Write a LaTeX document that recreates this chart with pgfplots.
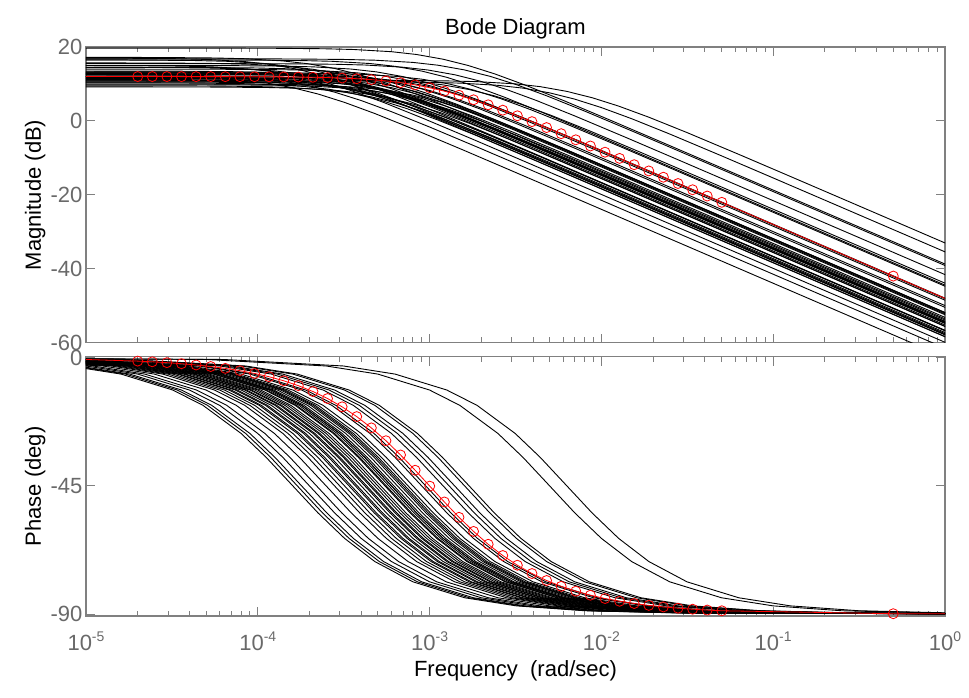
\documentclass[border=0pt]{standalone}
\usepackage{fontspec}
\setmainfont{Liberation Sans}
\usepackage{pgfplots}
\usepackage{pgfplotstable}
\pgfplotsset{compat=1.18}
\definecolor{axgray}{RGB}{128,128,128}
\definecolor{labgray}{RGB}{105,105,105}
\newcommand\tp[1]{10\raisebox{9pt}{\fontsize{14}{14}\selectfont #1}}
\pgfplotsset{blk/.style={black, line width=0.9pt, no marks}}
% ---------- black curves: columns x (rad/s), m (dB), p (deg) ----------
\pgfplotstableread{
x m p
1e-6 11.00 0
6.3e-5 11.00 -0.57
31.5e-5 10.99 -2.86
6.3e-4 10.96 -5.71
12.6e-4 10.83 -11.31
18.9e-4 10.63 -16.70
31.5e-4 10.03 -26.57
44.1e-4 9.27 -34.99
6.3e-3 7.99 -45.00
8.82e-3 6.29 -54.46
12.6e-3 4.01 -63.43
18.9e-3 1.00 -71.57
31.5e-3 -3.15 -78.69
6.3e-2 -9.04 -84.29
12.6e-2 -15.03 -87.14
31.5e-2 -22.98 -88.85
12.6e-1 -35.02 -89.71
10 -53.01 -90
}\crvA
\pgfplotstableread{
x m p
1e-6 10.60 0
5e-5 10.60 -0.57
25e-5 10.59 -2.86
5e-4 10.56 -5.71
10e-4 10.43 -11.31
15e-4 10.23 -16.70
25e-4 9.63 -26.57
35e-4 8.87 -34.99
5e-3 7.59 -45.00
7e-3 5.89 -54.46
10e-3 3.61 -63.43
15e-3 0.60 -71.57
25e-3 -3.55 -78.69
5e-2 -9.44 -84.29
10e-2 -15.43 -87.14
25e-2 -23.38 -88.85
10e-1 -35.42 -89.71
10 -55.42 -90
}\crvB
\pgfplotstableread{
x m p
1e-6 19.70 0
1.2e-5 19.70 -0.57
6e-5 19.69 -2.86
1.2e-4 19.66 -5.71
2.4e-4 19.53 -11.31
3.6e-4 19.33 -16.70
6e-4 18.73 -26.57
8.4e-4 17.97 -34.99
1.2e-3 16.69 -45.00
1.68e-3 14.99 -54.46
2.4e-3 12.71 -63.43
3.6e-3 9.70 -71.57
6e-3 5.55 -78.69
1.2e-2 -0.34 -84.29
2.4e-2 -6.33 -87.14
6e-2 -14.28 -88.85
2.4e-1 -26.32 -89.71
10 -58.72 -90
}\crvC
\pgfplotstableread{
x m p
1e-6 16.80 0
1.6e-5 16.80 -0.57
8e-5 16.79 -2.86
1.6e-4 16.76 -5.71
3.2e-4 16.63 -11.31
4.8e-4 16.43 -16.70
8e-4 15.83 -26.57
11.2e-4 15.07 -34.99
1.6e-3 13.79 -45.00
2.24e-3 12.09 -54.46
3.2e-3 9.81 -63.43
4.8e-3 6.80 -71.57
8e-3 2.65 -78.69
1.6e-2 -3.24 -84.29
3.2e-2 -9.23 -87.14
8e-2 -17.18 -88.85
3.2e-1 -29.22 -89.71
10 -59.12 -90
}\crvD
\pgfplotstableread{
x m p
1e-6 15.50 0
1.4e-5 15.50 -0.57
7e-5 15.49 -2.86
1.4e-4 15.46 -5.71
2.8e-4 15.33 -11.31
4.2e-4 15.13 -16.70
7e-4 14.53 -26.57
9.8e-4 13.77 -34.99
1.4e-3 12.49 -45.00
1.96e-3 10.79 -54.46
2.8e-3 8.51 -63.43
4.2e-3 5.50 -71.57
7e-3 1.35 -78.69
1.4e-2 -4.54 -84.29
2.8e-2 -10.53 -87.14
7e-2 -18.48 -88.85
2.8e-1 -30.52 -89.71
10 -61.58 -90
}\crvE
\pgfplotstableread{
x m p
1e-6 11.50 0
1.7e-5 11.50 -0.57
8.5e-5 11.49 -2.86
1.7e-4 11.46 -5.71
3.4e-4 11.33 -11.31
5.1e-4 11.13 -16.70
8.5e-4 10.53 -26.57
11.9e-4 9.77 -34.99
1.7e-3 8.49 -45.00
2.38e-3 6.79 -54.46
3.4e-3 4.51 -63.43
5.1e-3 1.50 -71.57
8.5e-3 -2.65 -78.69
1.7e-2 -8.54 -84.29
3.4e-2 -14.53 -87.14
8.5e-2 -22.48 -88.85
3.4e-1 -34.52 -89.71
10 -63.89 -90
}\crvF
\pgfplotstableread{
x m p
1e-6 13.00 0
1.3e-5 13.00 -0.57
6.5e-5 12.99 -2.86
1.3e-4 12.96 -5.71
2.6e-4 12.83 -11.31
3.9e-4 12.63 -16.70
6.5e-4 12.03 -26.57
9.1e-4 11.27 -34.99
1.3e-3 9.99 -45.00
1.82e-3 8.29 -54.46
2.6e-3 6.01 -63.43
3.9e-3 3.00 -71.57
6.5e-3 -1.15 -78.69
1.3e-2 -7.04 -84.29
2.6e-2 -13.03 -87.14
6.5e-2 -20.98 -88.85
2.6e-1 -33.02 -89.71
10 -64.72 -90
}\crvG
\pgfplotstableread{
x m p
1e-6 16.50 0
9e-6 16.50 -0.57
45e-6 16.49 -2.86
9e-5 16.46 -5.71
18e-5 16.33 -11.31
27e-5 16.13 -16.70
45e-5 15.53 -26.57
63e-5 14.77 -34.99
9e-4 13.49 -45.00
12.6e-4 11.79 -54.46
18e-4 9.51 -63.43
27e-4 6.50 -71.57
45e-4 2.35 -78.69
9e-3 -3.54 -84.29
18e-3 -9.53 -87.14
45e-3 -17.48 -88.85
18e-2 -29.52 -89.71
10 -64.42 -90
}\crvH
\pgfplotstableread{
x m p
1e-6 12.50 0
9.5e-6 12.50 -0.57
47.5e-6 12.49 -2.86
9.5e-5 12.46 -5.71
19e-5 12.33 -11.31
28.5e-5 12.13 -16.70
47.5e-5 11.53 -26.57
66.5e-5 10.77 -34.99
9.5e-4 9.49 -45.00
13.3e-4 7.79 -54.46
19e-4 5.51 -63.43
28.5e-4 2.50 -71.57
47.5e-4 -1.65 -78.69
9.5e-3 -7.54 -84.29
19e-3 -13.53 -87.14
47.5e-3 -21.48 -88.85
19e-2 -33.52 -89.71
10 -67.95 -90
}\crvI
\pgfplotstableread{
x m p
1e-6 10.00 0
8e-6 10.00 -0.57
40e-6 9.99 -2.86
8e-5 9.96 -5.71
16e-5 9.83 -11.31
24e-5 9.63 -16.70
40e-5 9.03 -26.57
56e-5 8.27 -34.99
8e-4 6.99 -45.00
11.2e-4 5.29 -54.46
16e-4 3.01 -63.43
24e-4 0.00 -71.57
40e-4 -4.15 -78.69
8e-3 -10.04 -84.29
16e-3 -16.03 -87.14
40e-3 -23.98 -88.85
16e-2 -36.02 -89.71
10 -71.94 -90
}\crvJ
\pgfplotstableread{
x m p
1e-6 14.00 0
7.5e-6 14.00 -0.57
37.5e-6 13.99 -2.86
7.5e-5 13.96 -5.71
15e-5 13.83 -11.31
22.5e-5 13.63 -16.70
37.5e-5 13.03 -26.57
52.5e-5 12.27 -34.99
7.5e-4 10.99 -45.00
10.5e-4 9.29 -54.46
15e-4 7.01 -63.43
22.5e-4 4.00 -71.57
37.5e-4 -0.15 -78.69
7.5e-3 -6.04 -84.29
15e-3 -12.03 -87.14
37.5e-3 -19.98 -88.85
15e-2 -32.02 -89.71
10 -68.50 -90
}\crvK
\pgfplotstableread{
x m p
1e-6 15.00 0
7e-6 15.00 -0.57
35e-6 14.99 -2.86
7e-5 14.96 -5.71
14e-5 14.83 -11.31
21e-5 14.63 -16.70
35e-5 14.03 -26.57
49e-5 13.27 -34.99
7e-4 11.99 -45.00
9.8e-4 10.29 -54.46
14e-4 8.01 -63.43
21e-4 5.00 -71.57
35e-4 0.85 -78.69
7e-3 -5.04 -84.29
14e-3 -11.03 -87.14
35e-3 -18.98 -88.85
14e-2 -31.02 -89.71
10 -68.10 -90
}\crvL
\pgfplotstableread{
x m p
1e-6 13.30 0
6.5e-6 13.30 -0.57
32.5e-6 13.29 -2.86
6.5e-5 13.26 -5.71
13e-5 13.13 -11.31
19.5e-5 12.93 -16.70
32.5e-5 12.33 -26.57
45.5e-5 11.57 -34.99
6.5e-4 10.29 -45.00
9.1e-4 8.59 -54.46
13e-4 6.31 -63.43
19.5e-4 3.30 -71.57
32.5e-4 -0.85 -78.69
6.5e-3 -6.74 -84.29
13e-3 -12.73 -87.14
32.5e-3 -20.68 -88.85
13e-2 -32.72 -89.71
10 -70.44 -90
}\crvM
\pgfplotstableread{
x m p
1e-6 12.00 0
6e-6 12.00 -0.57
30e-6 11.99 -2.86
6e-5 11.96 -5.71
12e-5 11.83 -11.31
18e-5 11.63 -16.70
30e-5 11.03 -26.57
42e-5 10.27 -34.99
6e-4 8.99 -45.00
8.4e-4 7.29 -54.46
12e-4 5.01 -63.43
18e-4 2.00 -71.57
30e-4 -2.15 -78.69
6e-3 -8.04 -84.29
12e-3 -14.03 -87.14
30e-3 -21.98 -88.85
12e-2 -34.02 -89.71
10 -72.44 -90
}\crvN
\pgfplotstableread{
x m p
1e-6 12.60 0
6e-6 12.60 -0.57
30e-6 12.59 -2.86
6e-5 12.56 -5.71
12e-5 12.43 -11.31
18e-5 12.23 -16.70
30e-5 11.63 -26.57
42e-5 10.87 -34.99
6e-4 9.59 -45.00
8.4e-4 7.89 -54.46
12e-4 5.61 -63.43
18e-4 2.60 -71.57
30e-4 -1.55 -78.69
6e-3 -7.44 -84.29
12e-3 -13.43 -87.14
30e-3 -21.38 -88.85
12e-2 -33.42 -89.71
10 -71.84 -90
}\crvO
\pgfplotstableread{
x m p
1e-6 11.00 0
6.2e-6 11.00 -0.57
31e-6 10.99 -2.86
6.2e-5 10.96 -5.71
12.4e-5 10.83 -11.31
18.6e-5 10.63 -16.70
31e-5 10.03 -26.57
43.4e-5 9.27 -34.99
6.2e-4 7.99 -45.00
8.68e-4 6.29 -54.46
12.4e-4 4.01 -63.43
18.6e-4 1.00 -71.57
31e-4 -3.15 -78.69
6.2e-3 -9.04 -84.29
12.4e-3 -15.03 -87.14
31e-3 -22.98 -88.85
12.4e-2 -35.02 -89.71
10 -73.15 -90
}\crvP
\pgfplotstableread{
x m p
1e-6 13.00 0
5.5e-6 13.00 -0.57
27.5e-6 12.99 -2.86
5.5e-5 12.96 -5.71
11e-5 12.83 -11.31
16.5e-5 12.63 -16.70
27.5e-5 12.03 -26.57
38.5e-5 11.27 -34.99
5.5e-4 9.99 -45.00
7.7e-4 8.29 -54.46
11e-4 6.01 -63.43
16.5e-4 3.00 -71.57
27.5e-4 -1.15 -78.69
5.5e-3 -7.04 -84.29
11e-3 -13.03 -87.14
27.5e-3 -20.98 -88.85
11e-2 -33.02 -89.71
10 -72.19 -90
}\crvQ
\pgfplotstableread{
x m p
1e-6 10.50 0
5.6e-6 10.50 -0.57
28e-6 10.49 -2.86
5.6e-5 10.46 -5.71
11.2e-5 10.33 -11.31
16.8e-5 10.13 -16.70
28e-5 9.53 -26.57
39.2e-5 8.77 -34.99
5.6e-4 7.49 -45.00
7.84e-4 5.79 -54.46
11.2e-4 3.51 -63.43
16.8e-4 0.50 -71.57
28e-4 -3.65 -78.69
5.6e-3 -9.54 -84.29
11.2e-3 -15.53 -87.14
28e-3 -23.48 -88.85
11.2e-2 -35.52 -89.71
10 -74.54 -90
}\crvR
\pgfplotstableread{
x m p
1e-6 11.80 0
5e-6 11.80 -0.57
25e-6 11.79 -2.86
5e-5 11.76 -5.71
10e-5 11.63 -11.31
15e-5 11.43 -16.70
25e-5 10.83 -26.57
35e-5 10.07 -34.99
5e-4 8.79 -45.00
7e-4 7.09 -54.46
10e-4 4.81 -63.43
15e-4 1.80 -71.57
25e-4 -2.35 -78.69
5e-3 -8.24 -84.29
10e-3 -14.23 -87.14
25e-3 -22.18 -88.85
10e-2 -34.22 -89.71
10 -74.22 -90
}\crvS
\pgfplotstableread{
x m p
1e-6 14.50 0
4.8e-6 14.50 -0.57
24e-6 14.49 -2.86
4.8e-5 14.46 -5.71
9.6e-5 14.33 -11.31
14.4e-5 14.13 -16.70
24e-5 13.53 -26.57
33.6e-5 12.77 -34.99
4.8e-4 11.49 -45.00
6.72e-4 9.79 -54.46
9.6e-4 7.51 -63.43
14.4e-4 4.50 -71.57
24e-4 0.35 -78.69
4.8e-3 -5.54 -84.29
9.6e-3 -11.53 -87.14
24e-3 -19.48 -88.85
9.6e-2 -31.52 -89.71
10 -71.88 -90
}\crvT
\pgfplotstableread{
x m p
1e-6 9.50 0
4.6e-6 9.50 -0.57
23e-6 9.49 -2.86
4.6e-5 9.46 -5.71
9.2e-5 9.33 -11.31
13.8e-5 9.13 -16.70
23e-5 8.53 -26.57
32.2e-5 7.77 -34.99
4.6e-4 6.49 -45.00
6.44e-4 4.79 -54.46
9.2e-4 2.51 -63.43
13.8e-4 -0.50 -71.57
23e-4 -4.65 -78.69
4.6e-3 -10.54 -84.29
9.2e-3 -16.53 -87.14
23e-3 -24.48 -88.85
9.2e-2 -36.52 -89.71
10 -77.24 -90
}\crvU
\pgfplotstableread{
x m p
1e-6 12.80 0
4.3e-6 12.80 -0.57
21.5e-6 12.79 -2.86
4.3e-5 12.76 -5.71
8.6e-5 12.63 -11.31
12.9e-5 12.43 -16.70
21.5e-5 11.83 -26.57
30.1e-5 11.07 -34.99
4.3e-4 9.79 -45.00
6.02e-4 8.09 -54.46
8.6e-4 5.81 -63.43
12.9e-4 2.80 -71.57
21.5e-4 -1.35 -78.69
4.3e-3 -7.24 -84.29
8.6e-3 -13.23 -87.14
21.5e-3 -21.18 -88.85
8.6e-2 -33.22 -89.71
10 -74.53 -90
}\crvV
\pgfplotstableread{
x m p
1e-6 11.20 0
4e-6 11.20 -0.57
20e-6 11.19 -2.86
4e-5 11.16 -5.71
8e-5 11.03 -11.31
12e-5 10.83 -16.70
20e-5 10.23 -26.57
28e-5 9.47 -34.99
4e-4 8.19 -45.00
5.6e-4 6.49 -54.46
8e-4 4.21 -63.43
12e-4 1.20 -71.57
20e-4 -2.95 -78.69
4e-3 -8.84 -84.29
8e-3 -14.83 -87.14
20e-3 -22.78 -88.85
8e-2 -34.82 -89.71
10 -76.76 -90
}\crvW
\pgfplotstableread{
x m p
1e-6 10.30 0
3.7e-6 10.30 -0.57
18.5e-6 10.29 -2.86
3.7e-5 10.26 -5.71
7.4e-5 10.13 -11.31
11.1e-5 9.93 -16.70
18.5e-5 9.33 -26.57
25.9e-5 8.57 -34.99
3.7e-4 7.29 -45.00
5.18e-4 5.59 -54.46
7.4e-4 3.31 -63.43
11.1e-4 0.30 -71.57
18.5e-4 -3.85 -78.69
3.7e-3 -9.74 -84.29
7.4e-3 -15.73 -87.14
18.5e-3 -23.68 -88.85
7.4e-2 -35.72 -89.71
10 -78.34 -90
}\crvX
\pgfplotstableread{
x m p
1e-6 13.50 0
3.5e-6 13.50 -0.57
17.5e-6 13.49 -2.86
3.5e-5 13.46 -5.71
7e-5 13.33 -11.31
10.5e-5 13.13 -16.70
17.5e-5 12.53 -26.57
24.5e-5 11.77 -34.99
3.5e-4 10.49 -45.00
4.9e-4 8.79 -54.46
7e-4 6.51 -63.43
10.5e-4 3.50 -71.57
17.5e-4 -0.65 -78.69
3.5e-3 -6.54 -84.29
7e-3 -12.53 -87.14
17.5e-3 -20.48 -88.85
7e-2 -32.52 -89.71
10 -75.62 -90
}\crvY
\pgfplotstableread{
x m p
1e-6 12.00 0
3.2e-6 12.00 -0.57
16e-6 11.99 -2.86
3.2e-5 11.96 -5.71
6.4e-5 11.83 -11.31
9.6e-5 11.63 -16.70
16e-5 11.03 -26.57
22.4e-5 10.27 -34.99
3.2e-4 8.99 -45.00
4.48e-4 7.29 -54.46
6.4e-4 5.01 -63.43
9.6e-4 2.00 -71.57
16e-4 -2.15 -78.69
3.2e-3 -8.04 -84.29
6.4e-3 -14.03 -87.14
16e-3 -21.98 -88.85
6.4e-2 -34.02 -89.71
10 -77.90 -90
}\crvZ
\pgfplotstableread{
x m p
1e-6 15.70 0
3e-6 15.70 -0.57
15e-6 15.69 -2.86
3e-5 15.66 -5.71
6e-5 15.53 -11.31
9e-5 15.33 -16.70
15e-5 14.73 -26.57
21e-5 13.97 -34.99
3e-4 12.69 -45.00
4.2e-4 10.99 -54.46
6e-4 8.71 -63.43
9e-4 5.70 -71.57
15e-4 1.55 -78.69
3e-3 -4.34 -84.29
6e-3 -10.33 -87.14
15e-3 -18.28 -88.85
6e-2 -30.32 -89.71
10 -74.76 -90
}\crvAA
\pgfplotstableread{
x m p
1e-6 17.20 0
2.8e-6 17.20 -0.57
14e-6 17.19 -2.86
2.8e-5 17.16 -5.71
5.6e-5 17.03 -11.31
8.4e-5 16.83 -16.70
14e-5 16.23 -26.57
19.6e-5 15.47 -34.99
2.8e-4 14.19 -45.00
3.92e-4 12.49 -54.46
5.6e-4 10.21 -63.43
8.4e-4 7.20 -71.57
14e-4 3.05 -78.69
2.8e-3 -2.84 -84.29
5.6e-3 -8.83 -87.14
14e-3 -16.78 -88.85
5.6e-2 -28.82 -89.71
10 -73.86 -90
}\crvAB
\pgfplotstableread{
x m p
1e-6 14.50 0
2.5e-6 14.50 -0.57
12.5e-6 14.49 -2.86
2.5e-5 14.46 -5.71
5e-5 14.33 -11.31
7.5e-5 14.13 -16.70
12.5e-5 13.53 -26.57
17.5e-5 12.77 -34.99
2.5e-4 11.49 -45.00
3.5e-4 9.79 -54.46
5e-4 7.51 -63.43
7.5e-4 4.50 -71.57
12.5e-4 0.35 -78.69
2.5e-3 -5.54 -84.29
5e-3 -11.53 -87.14
12.5e-3 -19.48 -88.85
5e-2 -31.52 -89.71
10 -77.54 -90
}\crvAC
\pgfplotstableread{
x m p
1e-6 16.50 0
2.2e-6 16.50 -0.57
11e-6 16.49 -2.86
2.2e-5 16.46 -5.71
4.4e-5 16.33 -11.31
6.6e-5 16.13 -16.70
11e-5 15.53 -26.57
15.4e-5 14.77 -34.99
2.2e-4 13.49 -45.00
3.08e-4 11.79 -54.46
4.4e-4 9.51 -63.43
6.6e-4 6.50 -71.57
11e-4 2.35 -78.69
2.2e-3 -3.54 -84.29
4.4e-3 -9.53 -87.14
11e-3 -17.48 -88.85
4.4e-2 -29.52 -89.71
10 -76.65 -90
}\crvAD
\pgfplotstableread{
x m p
1e-6 12.50 0
2e-6 12.50 -0.57
10e-6 12.49 -2.86
2e-5 12.46 -5.71
4e-5 12.33 -11.31
6e-5 12.13 -16.70
10e-5 11.53 -26.57
14e-5 10.77 -34.99
2e-4 9.49 -45.00
2.8e-4 7.79 -54.46
4e-4 5.51 -63.43
6e-4 2.50 -71.57
10e-4 -1.65 -78.69
2e-3 -7.54 -84.29
4e-3 -13.53 -87.14
10e-3 -21.48 -88.85
4e-2 -33.52 -89.71
10 -81.48 -90
}\crvAE
\pgfplotstableread{
x m p
1e-6 15.00 0
1.8e-6 15.00 -0.57
9e-6 14.99 -2.86
1.8e-5 14.96 -5.71
3.6e-5 14.83 -11.31
5.4e-5 14.63 -16.70
9e-5 14.03 -26.57
12.6e-5 13.27 -34.99
1.8e-4 11.99 -45.00
2.52e-4 10.29 -54.46
3.6e-4 8.01 -63.43
5.4e-4 5.00 -71.57
9e-4 0.85 -78.69
1.8e-3 -5.04 -84.29
3.6e-3 -11.03 -87.14
9e-3 -18.98 -88.85
3.6e-2 -31.02 -89.71
10 -79.89 -90
}\crvAF
\pgfplotstableread{
x m p
1e-6 17.00 0
1.7e-6 17.00 -0.57
8.5e-6 16.99 -2.86
1.7e-5 16.96 -5.71
3.4e-5 16.83 -11.31
5.1e-5 16.63 -16.70
8.5e-5 16.03 -26.57
11.9e-5 15.27 -34.99
1.7e-4 13.99 -45.00
2.38e-4 12.29 -54.46
3.4e-4 10.01 -63.43
5.1e-4 7.00 -71.57
8.5e-4 2.85 -78.69
1.7e-3 -3.04 -84.29
3.4e-3 -9.03 -87.14
8.5e-3 -16.98 -88.85
3.4e-2 -29.02 -89.71
10 -78.39 -90
}\crvAG
\pgfplotstableread{
x m p
1e-6 12.00 0
1.6e-6 12.00 -0.57
8e-6 11.99 -2.86
1.6e-5 11.96 -5.71
3.2e-5 11.83 -11.31
4.8e-5 11.63 -16.70
8e-5 11.03 -26.57
11.2e-5 10.27 -34.99
1.6e-4 8.99 -45.00
2.24e-4 7.29 -54.46
3.2e-4 5.01 -63.43
4.8e-4 2.00 -71.57
8e-4 -2.15 -78.69
1.6e-3 -8.04 -84.29
3.2e-3 -14.03 -87.14
8e-3 -21.98 -88.85
3.2e-2 -34.02 -89.71
10 -83.92 -90
}\crvAH
\pgfplotstableread{
x m p
1e-6 9.80 0
6.8e-6 9.80 -0.57
34e-6 9.79 -2.86
6.8e-5 9.76 -5.71
13.6e-5 9.63 -11.31
20.4e-5 9.43 -16.70
34e-5 8.83 -26.57
47.6e-5 8.07 -34.99
6.8e-4 6.79 -45.00
9.52e-4 5.09 -54.46
13.6e-4 2.81 -63.43
20.4e-4 -0.20 -71.57
34e-4 -4.35 -78.69
6.8e-3 -10.24 -84.29
13.6e-3 -16.23 -87.14
34e-3 -24.18 -88.85
13.6e-2 -36.22 -89.71
10 -73.55 -90
}\crvAI
\pgfplotstableread{
x m p
1e-6 11.40 0
5.2e-6 11.40 -0.57
26e-6 11.39 -2.86
5.2e-5 11.36 -5.71
10.4e-5 11.23 -11.31
15.6e-5 11.03 -16.70
26e-5 10.43 -26.57
36.4e-5 9.67 -34.99
5.2e-4 8.39 -45.00
7.28e-4 6.69 -54.46
10.4e-4 4.41 -63.43
15.6e-4 1.40 -71.57
26e-4 -2.75 -78.69
5.2e-3 -8.64 -84.29
10.4e-3 -14.63 -87.14
26e-3 -22.58 -88.85
10.4e-2 -34.62 -89.71
10 -74.28 -90
}\crvAJ
\pgfplotstableread{
x m p
1e-6 12.20 0
4.5e-6 12.20 -0.57
22.5e-6 12.19 -2.86
4.5e-5 12.16 -5.71
9e-5 12.03 -11.31
13.5e-5 11.83 -16.70
22.5e-5 11.23 -26.57
31.5e-5 10.47 -34.99
4.5e-4 9.19 -45.00
6.3e-4 7.49 -54.46
9e-4 5.21 -63.43
13.5e-4 2.20 -71.57
22.5e-4 -1.95 -78.69
4.5e-3 -7.84 -84.29
9e-3 -13.83 -87.14
22.5e-3 -21.78 -88.85
9e-2 -33.82 -89.71
10 -74.74 -90
}\crvAK
\pgfplotstableread{
x m p
1e-6 10.80 0
4.2e-6 10.80 -0.57
21e-6 10.79 -2.86
4.2e-5 10.76 -5.71
8.4e-5 10.63 -11.31
12.6e-5 10.43 -16.70
21e-5 9.83 -26.57
29.4e-5 9.07 -34.99
4.2e-4 7.79 -45.00
5.88e-4 6.09 -54.46
8.4e-4 3.81 -63.43
12.6e-4 0.80 -71.57
21e-4 -3.35 -78.69
4.2e-3 -9.24 -84.29
8.4e-3 -15.23 -87.14
21e-3 -23.18 -88.85
8.4e-2 -35.22 -89.71
10 -76.74 -90
}\crvAL
\pgfplotstableread{
x m p
1e-6 13.20 0
3.8e-6 13.20 -0.57
19e-6 13.19 -2.86
3.8e-5 13.16 -5.71
7.6e-5 13.03 -11.31
11.4e-5 12.83 -16.70
19e-5 12.23 -26.57
26.6e-5 11.47 -34.99
3.8e-4 10.19 -45.00
5.32e-4 8.49 -54.46
7.6e-4 6.21 -63.43
11.4e-4 3.20 -71.57
19e-4 -0.95 -78.69
3.8e-3 -6.84 -84.29
7.6e-3 -12.83 -87.14
19e-3 -20.78 -88.85
7.6e-2 -32.82 -89.71
10 -75.20 -90
}\crvAM
\pgfplotstableread{
x m p
1e-6 9.20 0
5.8e-6 9.20 -0.57
29e-6 9.19 -2.86
5.8e-5 9.16 -5.71
11.6e-5 9.03 -11.31
17.4e-5 8.83 -16.70
29e-5 8.23 -26.57
40.6e-5 7.47 -34.99
5.8e-4 6.19 -45.00
8.12e-4 4.49 -54.46
11.6e-4 2.21 -63.43
17.4e-4 -0.80 -71.57
29e-4 -4.95 -78.69
5.8e-3 -10.84 -84.29
11.6e-3 -16.83 -87.14
29e-3 -24.78 -88.85
11.6e-2 -36.82 -89.71
10 -75.53 -90
}\crvAN
\pgfplotstableread{
x m p
1e-6 11.60 0
3.4e-6 11.60 -0.57
17e-6 11.59 -2.86
3.4e-5 11.56 -5.71
6.8e-5 11.43 -11.31
10.2e-5 11.23 -16.70
17e-5 10.63 -26.57
23.8e-5 9.87 -34.99
3.4e-4 8.59 -45.00
4.76e-4 6.89 -54.46
6.8e-4 4.61 -63.43
10.2e-4 1.60 -71.57
17e-4 -2.55 -78.69
3.4e-3 -8.44 -84.29
6.8e-3 -14.43 -87.14
17e-3 -22.38 -88.85
6.8e-2 -34.42 -89.71
10 -77.77 -90
}\crvAO
\pgfplotstableread{
x m p
1e-6 12.90 0
7.2e-6 12.90 -0.57
36e-6 12.89 -2.86
7.2e-5 12.86 -5.71
14.4e-5 12.73 -11.31
21.6e-5 12.53 -16.70
36e-5 11.93 -26.57
50.4e-5 11.17 -34.99
7.2e-4 9.89 -45.00
10.08e-4 8.19 -54.46
14.4e-4 5.91 -63.43
21.6e-4 2.90 -71.57
36e-4 -1.25 -78.69
7.2e-3 -7.14 -84.29
14.4e-3 -13.13 -87.14
36e-3 -21.08 -88.85
14.4e-2 -33.12 -89.71
10 -69.95 -90
}\crvAP
% ---------- red (nominal) curve ----------
\pgfplotstableread{
x m p
1e-5 12.00 -0.57
2.000e-5 12.00 -1.15
2.432e-5 12.00 -1.39
2.958e-5 12.00 -1.69
3.597e-5 11.99 -2.06
4.375e-5 11.99 -2.51
5.321e-5 11.99 -3.05
6.471e-5 11.98 -3.70
7.870e-5 11.97 -4.50
9.572e-5 11.96 -5.47
1.164e-4 11.94 -6.64
1.416e-4 11.91 -8.06
1.722e-4 11.87 -9.77
2.094e-4 11.81 -11.83
2.547e-4 11.73 -14.29
3.097e-4 11.60 -17.21
3.767e-4 11.42 -20.64
4.581e-4 11.17 -24.61
5.572e-4 10.83 -29.12
6.776e-4 10.36 -34.12
8.241e-4 9.75 -39.49
1.0023e-3 8.98 -45.07
1.219e-3 8.05 -50.63
1.483e-3 6.95 -56.02
1.803e-3 5.72 -60.98
2.193e-3 4.36 -65.50
2.667e-3 2.91 -69.45
3.243e-3 1.39 -72.86
3.945e-3 -0.19 -75.78
4.797e-3 -1.80 -78.22
5.834e-3 -3.45 -80.27
7.096e-3 -5.11 -81.98
8.630e-3 -6.78 -83.39
1.050e-2 -8.46 -84.56
1.276e-2 -10.14 -85.52
1.552e-2 -11.84 -86.31
1.888e-2 -13.53 -86.97
2.296e-2 -15.23 -87.51
2.793e-2 -16.93 -87.95
3.396e-2 -18.62 -88.31
4.130e-2 -20.32 -88.61
5.023e-2 -22.02 -88.86
0.5 -41.98 -89.89
1 -48.00 -89.94
}\crvRed
\begin{document}
\begin{tikzpicture}
\path[use as bounding box] (0pt,0pt) rectangle (969pt,-698pt);
% ===== magnitude =====
\begin{axis}[xmode=log, scale only axis, width=859pt, height=295.7pt,
  at={(86pt,-47pt)}, anchor=north west,
  xmin=1e-5, xmax=1, ymin=-60, ymax=20,
  xtick={1e-5,1e-4,1e-3,1e-2,1e-1,1}, xticklabels={},
  ytick={-60,-40,-20,0,20}, yticklabels={-60,-40,-20,0,20},
  axis line style={draw=axgray, line width=1.1pt},
  every tick/.style={draw=axgray, line width=0.9pt},
  major tick length=9pt, minor tick length=5.5pt, tick align=inside,
  tick label style={font=\fontsize{22}{26}\selectfont, text=labgray},
  title={Bode Diagram}, ylabel={Magnitude (dB)},
  every axis y label/.style={at={(axis description cs:-0.0524,0.5)}, rotate=90, anchor=base, font=\fontsize{22}{26}\selectfont},
  every axis title/.style={at={(axis description cs:0.5,1.0406)}, anchor=base, font=\fontsize{22}{26}\selectfont}]
\addplot[blk] table[x=x,y=m]{\crvA};
\addplot[blk] table[x=x,y=m]{\crvB};
\addplot[blk] table[x=x,y=m]{\crvC};
\addplot[blk] table[x=x,y=m]{\crvD};
\addplot[blk] table[x=x,y=m]{\crvE};
\addplot[blk] table[x=x,y=m]{\crvF};
\addplot[blk] table[x=x,y=m]{\crvG};
\addplot[blk] table[x=x,y=m]{\crvH};
\addplot[blk] table[x=x,y=m]{\crvI};
\addplot[blk] table[x=x,y=m]{\crvJ};
\addplot[blk] table[x=x,y=m]{\crvK};
\addplot[blk] table[x=x,y=m]{\crvL};
\addplot[blk] table[x=x,y=m]{\crvM};
\addplot[blk] table[x=x,y=m]{\crvN};
\addplot[blk] table[x=x,y=m]{\crvO};
\addplot[blk] table[x=x,y=m]{\crvP};
\addplot[blk] table[x=x,y=m]{\crvQ};
\addplot[blk] table[x=x,y=m]{\crvR};
\addplot[blk] table[x=x,y=m]{\crvS};
\addplot[blk] table[x=x,y=m]{\crvT};
\addplot[blk] table[x=x,y=m]{\crvU};
\addplot[blk] table[x=x,y=m]{\crvV};
\addplot[blk] table[x=x,y=m]{\crvW};
\addplot[blk] table[x=x,y=m]{\crvX};
\addplot[blk] table[x=x,y=m]{\crvY};
\addplot[blk] table[x=x,y=m]{\crvZ};
\addplot[blk] table[x=x,y=m]{\crvAA};
\addplot[blk] table[x=x,y=m]{\crvAB};
\addplot[blk] table[x=x,y=m]{\crvAC};
\addplot[blk] table[x=x,y=m]{\crvAD};
\addplot[blk] table[x=x,y=m]{\crvAE};
\addplot[blk] table[x=x,y=m]{\crvAF};
\addplot[blk] table[x=x,y=m]{\crvAG};
\addplot[blk] table[x=x,y=m]{\crvAH};
\addplot[blk] table[x=x,y=m]{\crvAI};
\addplot[blk] table[x=x,y=m]{\crvAJ};
\addplot[blk] table[x=x,y=m]{\crvAK};
\addplot[blk] table[x=x,y=m]{\crvAL};
\addplot[blk] table[x=x,y=m]{\crvAM};
\addplot[blk] table[x=x,y=m]{\crvAN};
\addplot[blk] table[x=x,y=m]{\crvAO};
\addplot[blk] table[x=x,y=m]{\crvAP};
\addplot[red, line width=0.8pt, no marks] table[x=x,y=m]{\crvRed};
\addplot[red, only marks, mark=o, mark size=5pt, mark options={line width=0.8pt},
  skip coords between index={0}{1}, skip coords between index={43}{44}] table[x=x,y=m]{\crvRed};
\end{axis}
% ===== phase =====
\begin{axis}[xmode=log, scale only axis, width=859pt, height=259.3pt,
  at={(86pt,-356.7pt)}, anchor=north west,
  xmin=1e-5, xmax=1, ymin=-90.7, ymax=0.4,
  xtick={1e-5,1e-4,1e-3,1e-2,1e-1,1},
  xticklabels={\tp{-5},\tp{-4},\tp{-3},\tp{-2},\tp{-1},\tp{0}},
  ytick={-90,-45,0}, yticklabels={-90,-45,0},
  axis line style={draw=axgray, line width=1.1pt},
  every tick/.style={draw=axgray, line width=0.9pt},
  major tick length=9pt, minor tick length=5.5pt, tick align=inside,
  tick label style={font=\fontsize{22}{26}\selectfont, text=labgray},
  xticklabel style={anchor=base, yshift=-34pt},
  xlabel={Frequency\ \ (rad/sec)}, ylabel={Phase (deg)},
  every axis y label/.style={at={(axis description cs:-0.0524,0.5)}, rotate=90, anchor=base, font=\fontsize{22}{26}\selectfont},
  every axis x label/.style={at={(axis description cs:0.5,-0.235)}, anchor=base, font=\fontsize{22}{26}\selectfont}]
\addplot[blk] table[x=x,y=p]{\crvA};
\addplot[blk] table[x=x,y=p]{\crvB};
\addplot[blk] table[x=x,y=p]{\crvC};
\addplot[blk] table[x=x,y=p]{\crvD};
\addplot[blk] table[x=x,y=p]{\crvE};
\addplot[blk] table[x=x,y=p]{\crvF};
\addplot[blk] table[x=x,y=p]{\crvG};
\addplot[blk] table[x=x,y=p]{\crvH};
\addplot[blk] table[x=x,y=p]{\crvI};
\addplot[blk] table[x=x,y=p]{\crvJ};
\addplot[blk] table[x=x,y=p]{\crvK};
\addplot[blk] table[x=x,y=p]{\crvL};
\addplot[blk] table[x=x,y=p]{\crvM};
\addplot[blk] table[x=x,y=p]{\crvN};
\addplot[blk] table[x=x,y=p]{\crvO};
\addplot[blk] table[x=x,y=p]{\crvP};
\addplot[blk] table[x=x,y=p]{\crvQ};
\addplot[blk] table[x=x,y=p]{\crvR};
\addplot[blk] table[x=x,y=p]{\crvS};
\addplot[blk] table[x=x,y=p]{\crvT};
\addplot[blk] table[x=x,y=p]{\crvU};
\addplot[blk] table[x=x,y=p]{\crvV};
\addplot[blk] table[x=x,y=p]{\crvW};
\addplot[blk] table[x=x,y=p]{\crvX};
\addplot[blk] table[x=x,y=p]{\crvY};
\addplot[blk] table[x=x,y=p]{\crvZ};
\addplot[blk] table[x=x,y=p]{\crvAA};
\addplot[blk] table[x=x,y=p]{\crvAB};
\addplot[blk] table[x=x,y=p]{\crvAC};
\addplot[blk] table[x=x,y=p]{\crvAD};
\addplot[blk] table[x=x,y=p]{\crvAE};
\addplot[blk] table[x=x,y=p]{\crvAF};
\addplot[blk] table[x=x,y=p]{\crvAG};
\addplot[blk] table[x=x,y=p]{\crvAH};
\addplot[blk] table[x=x,y=p]{\crvAI};
\addplot[blk] table[x=x,y=p]{\crvAJ};
\addplot[blk] table[x=x,y=p]{\crvAK};
\addplot[blk] table[x=x,y=p]{\crvAL};
\addplot[blk] table[x=x,y=p]{\crvAM};
\addplot[blk] table[x=x,y=p]{\crvAN};
\addplot[blk] table[x=x,y=p]{\crvAO};
\addplot[blk] table[x=x,y=p]{\crvAP};
\addplot[red, line width=0.8pt, no marks] table[x=x,y=p]{\crvRed};
\addplot[red, only marks, mark=o, mark size=5pt, mark options={line width=0.8pt},
  skip coords between index={0}{1}, skip coords between index={43}{44}] table[x=x,y=p]{\crvRed};
\end{axis}
\end{tikzpicture}
\end{document}
